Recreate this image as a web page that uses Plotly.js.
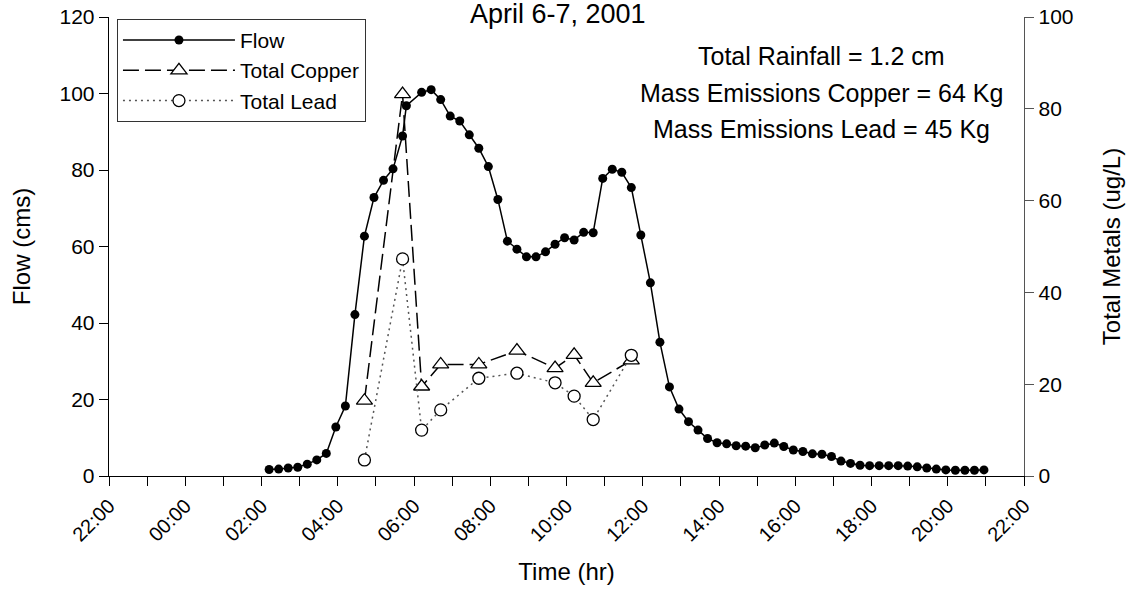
<!DOCTYPE html>
<html>
<head>
<meta charset="utf-8">
<script src="https://cdn.plot.ly/plotly-3.0.1.min.js"></script>
<style>html,body{margin:0;padding:0;background:#fff;}#chart{width:1131px;height:590px;}</style>
</head>
<body>
<div id="chart"></div>
<script>
// ---- data ----
var day = "2001-04-07 ";
var flowTimes = ["02:12","02:27","02:42","02:57","03:12","03:27","03:42","03:57","04:12","04:27",
  "04:42","04:57","05:12","05:27","05:42","05:48","06:12","06:27","06:42","06:57",
  "07:12","07:27","07:42","07:57","08:12","08:27","08:42","08:57","09:12","09:27",
  "09:42","09:57","10:12","10:27","10:42","10:57","11:12","11:27","11:42","11:57",
  "12:12","12:27","12:42","12:57","13:12","13:27","13:42","13:57","14:12","14:27",
  "14:42","14:57","15:12","15:27","15:42","15:57","16:12","16:27","16:42","16:57",
  "17:12","17:27","17:42","17:57","18:12","18:27","18:42","18:57","19:12","19:27",
  "19:42","19:57","20:12","20:27","20:42","20:57"];
var flowValues = [1.7,1.8,2.1,2.3,3.1,4.2,5.9,12.8,18.3,42.2,
  62.7,72.8,77.3,80.3,88.9,96.8,100.3,101.0,98.4,94.1,
  92.8,89.2,85.7,80.9,72.3,61.4,59.3,57.3,57.3,58.6,
  60.6,62.3,61.7,63.7,63.6,77.8,80.2,79.4,75.4,63.0,
  50.5,35.0,23.3,17.5,14.2,12.0,9.8,8.7,8.4,7.9,
  7.8,7.4,8.1,8.6,7.7,6.8,6.4,5.8,5.7,5.1,
  3.9,3.3,2.8,2.7,2.7,2.7,2.7,2.6,2.4,2.1,
  1.8,1.6,1.5,1.5,1.5,1.6];
var metalTimes = ["04:42","05:42","06:12","06:42","07:42","08:42","09:42","10:12","10:42","11:42"];
var copperValues = [16.4,83.2,19.5,24.3,24.3,27.3,23.5,26.4,20.3,25.2];
var leadValues = [3.5,47.3,10.0,14.4,21.3,22.4,20.3,17.4,12.3,26.3];
var xRange = ["2001-04-06 22:00","2001-04-07 22:00"];
var infoLines = ["Total Rainfall = 1.2 cm","Mass Emissions Copper = 64 Kg","Mass Emissions Lead = 45 Kg"];

function toDates(arr){ return arr.map(function(t){ return day + t; }); }

var FONT = "Arial, 'Liberation Sans', sans-serif";

var traces = [
  {
    name: "Flow", type: "scatter", mode: "lines+markers",
    x: toDates(flowTimes), y: flowValues,
    line: {color: "#000", width: 1.5},
    marker: {symbol: "circle", size: 9, color: "#000"},
    yaxis: "y"
  },
  {
    name: "Total Copper", type: "scatter", mode: "lines+markers",
    x: toDates(metalTimes), y: copperValues,
    line: {color: "#000", width: 1.5, dash: "16px,6px"},
    marker: {symbol: "triangle-up", size: 14, color: "#fff", line: {color: "#000", width: 1.3}},
    yaxis: "y2"
  },
  {
    name: "Total Lead", type: "scatter", mode: "lines+markers",
    x: toDates(metalTimes), y: leadValues,
    line: {color: "#555", width: 1.5, dash: "2px,4px"},
    marker: {symbol: "circle", size: 12, color: "#fff", line: {color: "#000", width: 1.3}},
    yaxis: "y2"
  }
];

var annotations = infoLines.map(function(t, i){
  return {
    text: t, xref: "paper", yref: "paper",
    x: 0.779, y: 0.915 - i * 0.080,
    xanchor: "center", yanchor: "middle",
    showarrow: false, font: {family: FONT, size: 25, color: "#000"}
  };
});

var layout = {
  width: 1131, height: 590,
  margin: {l: 109, r: 107, t: 17, b: 114},
  paper_bgcolor: "#fff", plot_bgcolor: "#fff",
  font: {family: FONT, size: 21, color: "#000"},
  title: {
    text: "April 6-7, 2001",
    font: {family: FONT, size: 27, color: "#000"},
    xref: "container", x: 0.4156, xanchor: "left",
    yref: "container", y: 0.993, yanchor: "top"
  },
  showlegend: true,
  legend: {
    x: 0.0087, y: 0.996, xanchor: "left", yanchor: "top",
    bgcolor: "#fff", bordercolor: "#333", borderwidth: 1,
    font: {family: FONT, size: 21, color: "#000"},
    itemwidth: 112, tracegroupgap: 0
  },
  xaxis: {
    type: "date", range: xRange,
    tick0: "2001-04-06 22:00", dtick: 7200000, tickformat: "%H:%M",
    tickangle: -45, ticks: "outside", ticklen: 9, tickwidth: 1, tickcolor: "#000",
    minor: {dtick: 3600000, ticks: "outside", ticklen: 9, tickwidth: 1, tickcolor: "#000", showgrid: false},
    showline: true, linecolor: "#000", linewidth: 1.3,
    showgrid: false, zeroline: false,
    tickfont: {family: FONT, size: 20, color: "#000"},
    title: {text: "Time (hr)", font: {family: FONT, size: 24, color: "#000"}, standoff: 18}
  },
  yaxis: {
    range: [0, 120], dtick: 20, tick0: 0,
    ticks: "outside", ticklen: 9, tickwidth: 1, tickcolor: "#000",
    showline: true, linecolor: "#000", linewidth: 1.3,
    showgrid: false, zeroline: false,
    tickfont: {family: FONT, size: 21, color: "#000"},
    title: {text: "Flow (cms)", font: {family: FONT, size: 24, color: "#000"}, standoff: 22}
  },
  yaxis2: {
    overlaying: "y", side: "right",
    range: [0, 100], dtick: 20, tick0: 0,
    ticks: "outside", ticklen: 9, tickwidth: 1, tickcolor: "#555",
    showline: true, linecolor: "#555", linewidth: 1.3,
    showgrid: false, zeroline: false,
    tickfont: {family: FONT, size: 21, color: "#000"},
    title: {text: "Total Metals (ug/L)", font: {family: FONT, size: 24, color: "#000"}, standoff: 30}
  },
  annotations: annotations
};

Plotly.newPlot("chart", traces, layout, {displayModeBar: false, staticPlot: true});
</script>
</body>
</html>
